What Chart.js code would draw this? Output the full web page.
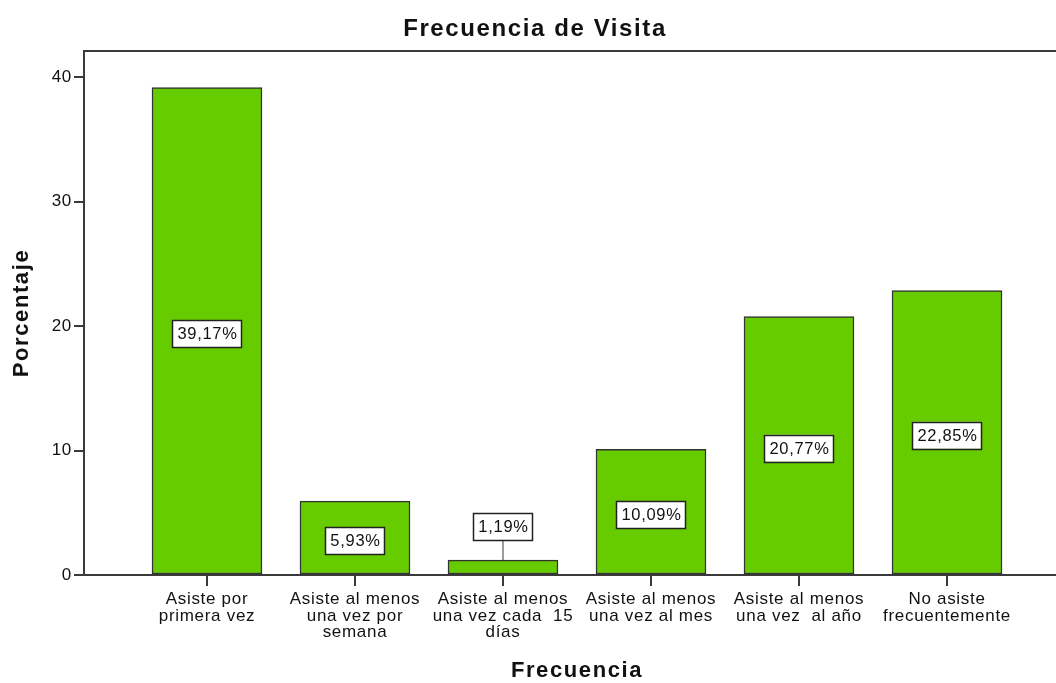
<!DOCTYPE html>
<html>
<head>
<meta charset="utf-8">
<script src="https://cdn.jsdelivr.net/npm/chart.js@4"></script>
<style>
  html, body { margin: 0; padding: 0; background: #fff; overflow: hidden; }
  #wrap { width: 1070px; height: 683px; }
</style>
</head>
<body>
<div id="wrap"><canvas id="freqChart"></canvas></div>
<script>
// ------------------------------
// Data
// ------------------------------
const categories = [
  ['Asiste por', 'primera vez'],
  ['Asiste al menos', 'una vez por', 'semana'],
  ['Asiste al menos', 'una vez cada  15', 'días'],
  ['Asiste al menos', 'una vez al mes'],
  ['Asiste al menos', 'una vez  al año'],
  ['No asiste', 'frecuentemente']
];
const percentages = [39.17, 5.93, 1.19, 10.09, 20.77, 22.85];
const yTicks = [0, 10, 20, 30, 40];

const FONT = 'Liberation Sans, Arial, sans-serif';
const AXIS_COLOR = '#3a3a3a';

// ------------------------------
// Slightly wider tracking like the original renderer
// ------------------------------
const canvas = document.getElementById('freqChart');
const ctx2d = canvas.getContext('2d');
const fontDesc = Object.getOwnPropertyDescriptor(CanvasRenderingContext2D.prototype, 'font');
Object.defineProperty(ctx2d, 'font', {
  get() { return fontDesc.get.call(this); },
  set(v) {
    fontDesc.set.call(this, v);
    this.letterSpacing = /bold/.test(v) ? '1.6px' : '0.7px';
  }
});

// ------------------------------
// Value labels (white boxes) + top frame line
// ------------------------------
const boxLabels = {
  id: 'boxLabels',
  afterDatasetsDraw(chart) {
    const ctx = chart.ctx;
    const meta = chart.getDatasetMeta(0);
    ctx.save();
    ctx.font = '16.5px ' + FONT;
    ctx.textAlign = 'center';
    ctx.textBaseline = 'middle';
    meta.data.forEach((bar, i) => {
      const txt = percentages[i].toFixed(2).replace('.', ',') + '%';
      const w = ctx.measureText(txt).width + 9;
      const h = 27;
      const barH = bar.base - bar.y;
      let cy = bar.y + barH / 2 + 3;
      if (barH < 40) {
        // small bar: put the box above it with a leader line
        cy = bar.y - 34;
        ctx.strokeStyle = AXIS_COLOR;
        ctx.lineWidth = 1;
        ctx.beginPath();
        ctx.moveTo(bar.x, cy + h / 2);
        ctx.lineTo(bar.x, bar.y);
        ctx.stroke();
      }
      ctx.fillStyle = '#fff';
      ctx.fillRect(bar.x - w / 2, cy - h / 2, w, h);
      ctx.strokeStyle = '#222';
      ctx.lineWidth = 1.5;
      ctx.strokeRect(Math.round(bar.x - w / 2) + 0.5, Math.round(cy - h / 2) + 0.5, Math.round(w), h);
      ctx.fillStyle = '#111';
      ctx.fillText(txt, bar.x + 0.5, cy + 1);
    });
    // top border of the plot area
    const a = chart.chartArea;
    ctx.strokeStyle = AXIS_COLOR;
    ctx.lineWidth = 2;
    ctx.beginPath();
    ctx.moveTo(a.left, a.top);
    ctx.lineTo(a.right, a.top);
    ctx.stroke();
    ctx.restore();
  }
};

new Chart(canvas, {
  type: 'bar',
  data: {
    datasets: [{
      data: percentages.map((v, i) => ({ x: i, y: v })),
      backgroundColor: '#66cc00',
      borderColor: '#333',
      borderWidth: 1.5,
      borderSkipped: false,
      barThickness: 110
    }]
  },
  options: {
    responsive: true,
    maintainAspectRatio: false,
    animation: false,
    layout: { padding: { left: 0, right: 0, top: 0, bottom: 0 } },
    plugins: {
      legend: { display: false },
      tooltip: { enabled: false },
      title: {
        display: true,
        text: 'Frecuencia de Visita',
        color: '#111',
        font: { family: FONT, size: 24, weight: 'bold', lineHeight: 1.2 },
        padding: { top: 14.5, bottom: 7.7 }
      }
    },
    scales: {
      x: {
        type: 'linear',
        offset: false,
        min: -0.831,
        max: 5.831,
        afterBuildTicks: s => { s.ticks = categories.map((c, i) => ({ value: i })); },
        afterFit: s => { s.height = 108; },
        ticks: {
          autoSkip: false,
          maxRotation: 0,
          color: '#111',
          padding: 5,
          font: { family: FONT, size: 17, lineHeight: 0.98 },
          callback: (v) => categories[v] || ''
        },
        grid: { offset: false, drawOnChartArea: false, drawTicks: true, tickLength: 11, color: AXIS_COLOR, lineWidth: 2 },
        border: { display: true, color: AXIS_COLOR, width: 2 },
        title: {
          display: true,
          text: 'Frecuencia',
          color: '#111',
          font: { family: FONT, size: 22, weight: 'bold', lineHeight: 1.2 },
          padding: { top: 0, bottom: -1 }
        }
      },
      y: {
        min: 0,
        max: 42.1,
        afterBuildTicks: s => { s.ticks = yTicks.map(v => ({ value: v })); },
        afterFit: s => { s.width = 84; },
        ticks: {
          color: '#111',
          padding: 2,
          font: { family: FONT, size: 17 }
        },
        grid: { drawOnChartArea: false, drawTicks: true, tickLength: 10, color: AXIS_COLOR, lineWidth: 2 },
        border: { display: true, color: AXIS_COLOR, width: 2 },
        title: {
          display: true,
          text: 'Porcentaje',
          color: '#111',
          font: { family: FONT, size: 22, weight: 'bold', lineHeight: 1.2 },
          padding: { top: 9, bottom: 0 }
        }
      }
    }
  },
  plugins: [boxLabels]
});
</script>
</body>
</html>
